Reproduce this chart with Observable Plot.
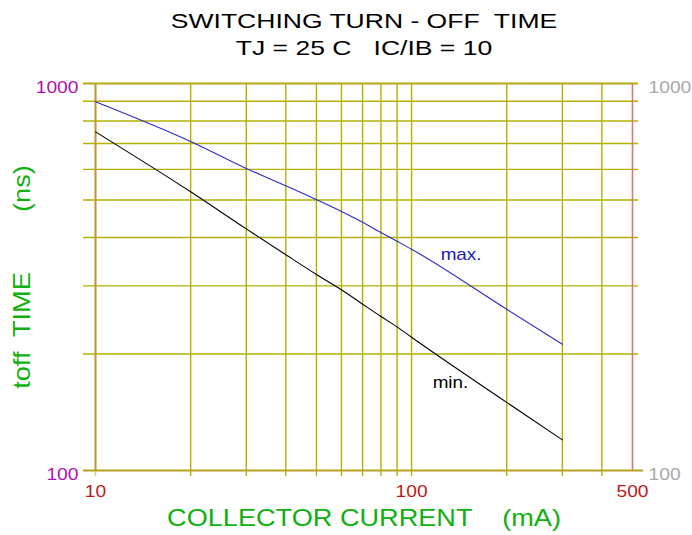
<!DOCTYPE html>
<html>
<head>
<meta charset="utf-8">
<script src="https://cdn.jsdelivr.net/npm/d3@7"></script>
<script src="https://cdn.jsdelivr.net/npm/@observablehq/plot@0.6"></script>
<style>
  html, body { margin: 0; padding: 0; background: #fff; }
  svg text { white-space: pre; }
</style>
</head>
<body>
<div id="chart"></div>
<script>
// ---- data ----
const current = [10, 20, 30, 40, 50, 60, 70, 80, 90, 100, 200, 300];      // mA
const toffMax = [897, 708, 603, 544, 501, 467, 438, 412, 391, 373, 261, 212]; // ns
const toffMin = [750, 525, 421, 361, 321, 293, 269, 250, 235, 221, 150, 120]; // ns
const xGrid = [20, 30, 40, 50, 60, 70, 80, 90, 100, 200, 300, 400];
const yGrid = [200, 300, 400, 500, 600, 700, 800, 900];
const xTickLabels = [10, 100, 500];
const yTickLabels = [100, 1000];
const titleLines = ["SWITCHING TURN - OFF  TIME", "TJ = 25 C   IC/IB = 10"];
const xTitle = "COLLECTOR CURRENT    (mA)";
const yTitle = "toff  TIME        (ns)";
const seriesLabels = [
  {text: "max.", current: 123.6, toff: 361, color: "#2020b0"},
  {text: "min.", current: 116.6, toff: 168, color: "#000000"}
];

const table = current.map((c, i) => ({current: c, max: toffMax[i], min: toffMin[i]}));

const olive = "#b4b000";
const font = "Liberation Sans, Arial, Helvetica, sans-serif";

const svg = Plot.plot({
  width: 692,
  height: 535,
  marginTop: 83,
  marginLeft: 95,
  marginRight: 60,
  marginBottom: 65,
  style: {fontFamily: font, background: "#fff", overflow: "visible"},
  x: {type: "log", domain: [10, 500], axis: null},
  y: {type: "log", domain: [100, 1000], axis: null},
  marks: [
    // grid
    Plot.ruleX(xGrid, {x: d => d, stroke: olive, strokeWidth: 1.4, insetBottom: -6}),
    Plot.ruleY(yGrid, {y: d => d, stroke: olive, strokeWidth: 1.4, insetLeft: -12, insetRight: -6}),
    Plot.ruleY([1000], {y: d => d, stroke: "#b3aa10", strokeWidth: 2, insetLeft: -12, insetRight: -6}),
    // frame
    Plot.ruleX([500], {x: d => d, stroke: "#d87878", strokeWidth: 1.6}),
    Plot.ruleX([10], {x: d => d, stroke: "#d8d070", strokeWidth: 1.4, insetBottom: -6}),
    Plot.ruleX([10], {x: d => d, stroke: "#bb9a30", strokeWidth: 2}),
    Plot.ruleY([100], {y: d => d, stroke: "#b8a020", strokeWidth: 2.2, insetLeft: -12, insetRight: -11}),
    // curves
    Plot.line(table, {x: "current", y: "max", stroke: "#2a2ac8", strokeWidth: 1.1, curve: "monotone-x"}),
    Plot.line(table, {x: "current", y: "min", stroke: "#000000", strokeWidth: 1.1, curve: "monotone-x"}),
    Plot.text(seriesLabels, {x: "current", y: "toff", text: "text", fill: "color",
      textAnchor: "start", lineAnchor: "middle", fontSize: 16}),
    // tick labels
    Plot.text(yTickLabels, {y: d => d, text: d => String(d), frameAnchor: "left",
      textAnchor: "end", lineAnchor: "middle", dx: -17, dy: 4, fill: "#b010b0", fontSize: 16.3}),
    Plot.text(yTickLabels, {y: d => d, text: d => String(d), frameAnchor: "right",
      textAnchor: "start", lineAnchor: "middle", dx: 16, dy: 4, fill: "#a8a8a8", fontSize: 16.3}),
    Plot.text(xTickLabels, {x: d => d, text: d => String(d), frameAnchor: "bottom",
      textAnchor: "middle", lineAnchor: "middle", dy: 21, fill: "#c01818", fontSize: 16.3}),
    // axis titles
    Plot.text([xTitle], {text: d => d, frameAnchor: "bottom", textAnchor: "middle",
      lineAnchor: "middle", dy: 48, fill: "#10b010", fontSize: 23}),
    Plot.text([yTitle], {text: d => d, frameAnchor: "left", textAnchor: "middle",
      lineAnchor: "middle", rotate: -90, dx: -72.5, fill: "#10b010", fontSize: 23}),
    // title
    Plot.text([titleLines[0]], {text: d => d, frameAnchor: "top", textAnchor: "middle",
      lineAnchor: "middle", dy: -62, fill: "#000", fontSize: 19.8}),
    Plot.text([titleLines[1]], {text: d => d, frameAnchor: "top", textAnchor: "middle",
      lineAnchor: "middle", dy: -35, fill: "#000", fontSize: 19.8})
  ]
});

document.getElementById("chart").appendChild(svg);

// the reference's lettering is horizontally stretched: widen each text about its anchor
svg.querySelectorAll("text").forEach(t => {
  const fs = parseFloat(getComputedStyle(t).fontSize);
  const s = fs > 19 && fs < 20 ? 1.34 : 1.18;
  const bb = t.getBBox();
  const anchor = getComputedStyle(t).textAnchor;
  const ax = anchor === "middle" ? bb.x + bb.width / 2 : anchor === "end" ? bb.x + bb.width : bb.x;
  const prev = t.getAttribute("transform") || "";
  t.setAttribute("transform", `${prev} translate(${ax},0) scale(${s},1) translate(${-ax},0)`);
});
</script>
</body>
</html>
